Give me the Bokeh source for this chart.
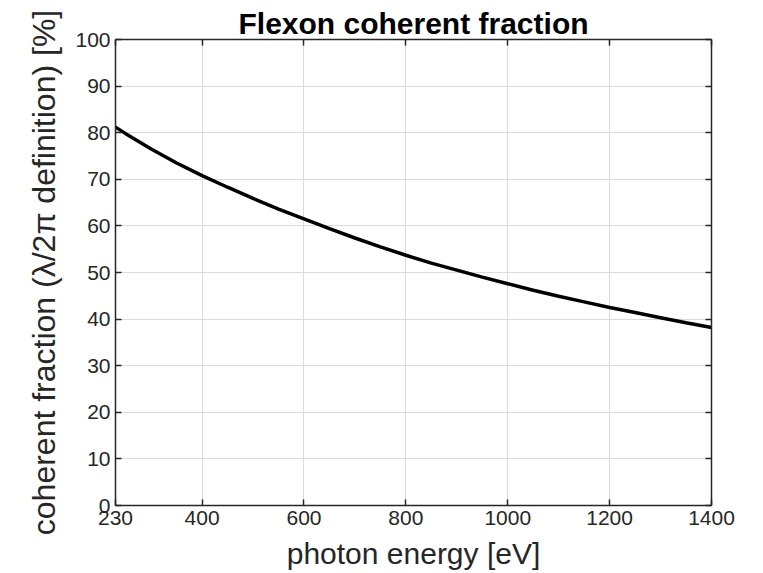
from bokeh.plotting import figure
from bokeh.models import LinearAxis, FixedTicker, Range1d
from bokeh.embed import file_html
from bokeh.resources import INLINE

# Coherent fraction of the Flexon source versus photon energy
energy_ev = [230, 250, 300, 350, 400, 450, 500, 550, 600, 650, 700, 750, 800,
             850, 900, 950, 1000, 1050, 1100, 1150, 1200, 1250, 1300, 1350, 1400]
coherent_pct = [81.2, 79.8, 76.5, 73.5, 70.8, 68.3, 65.9, 63.6, 61.5, 59.4, 57.4, 55.5, 53.7,
                52.0, 50.5, 49.0, 47.6, 46.2, 44.9, 43.7, 42.5, 41.4, 40.3, 39.2, 38.2]

x_ticks = [230, 400, 600, 800, 1000, 1200, 1400]
y_ticks = [0, 10, 20, 30, 40, 50, 60, 70, 80, 90, 100]

FONT = "Liberation Sans"
AXIS_COLOR = "#262626"
GRID_COLOR = "#dadada"

p = figure(
    width=763, height=573,
    x_range=Range1d(230, 1400), y_range=Range1d(0, 100),
    output_backend="svg", toolbar_location=None,
    title="Flexon coherent fraction",
    x_axis_label="photon energy [eV]",
    y_axis_label="coherent fraction (λ/2π definition) [%]",
    min_border_left=115, min_border_right=52,
    min_border_top=39, min_border_bottom=68,
)
p.background_fill_color = "white"
p.border_fill_color = "white"
p.outline_line_color = None

p.title.text_font = FONT
p.title.text_font_size = "30px"
p.title.text_font_style = "bold"
p.title.text_color = "black"
p.title.align = "center"
p.title.standoff = 0
p.title.offset = 0

def style_axis(ax, ticks, show_labels):
    ax.ticker = FixedTicker(ticks=ticks)
    ax.major_tick_in = 6
    ax.major_tick_out = 0
    ax.minor_tick_line_color = None
    ax.axis_line_color = AXIS_COLOR
    ax.axis_line_width = 1.5
    ax.major_tick_line_color = AXIS_COLOR
    ax.major_tick_line_width = 1.5
    ax.major_label_text_font = FONT
    ax.major_label_text_font_size = "21px"
    ax.major_label_text_color = AXIS_COLOR
    ax.major_label_standoff = 5
    ax.axis_label_text_font = FONT
    ax.axis_label_text_font_style = "normal"
    ax.axis_label_text_color = AXIS_COLOR
    if not show_labels:
        ax.major_label_overrides = {t: "" for t in ticks}

for ax in p.xaxis:
    style_axis(ax, x_ticks, True)
    ax.axis_label_text_font_size = "30px"
    ax.axis_label_standoff = 9
for ax in p.yaxis:
    style_axis(ax, y_ticks, True)
    ax.axis_label_text_font_size = "32px"
    ax.axis_label_standoff = 10

top_axis = LinearAxis()
style_axis(top_axis, x_ticks, False)
p.add_layout(top_axis, "above")

right_axis = LinearAxis()
style_axis(right_axis, y_ticks, False)
p.add_layout(right_axis, "right")

p.xgrid.ticker = FixedTicker(ticks=x_ticks)
p.ygrid.ticker = FixedTicker(ticks=y_ticks)
p.grid.grid_line_color = GRID_COLOR
p.grid.grid_line_width = 1

p.line(energy_ev, coherent_pct, line_color="black", line_width=3.5)

open("out.html", "w").write(file_html(p, INLINE))
